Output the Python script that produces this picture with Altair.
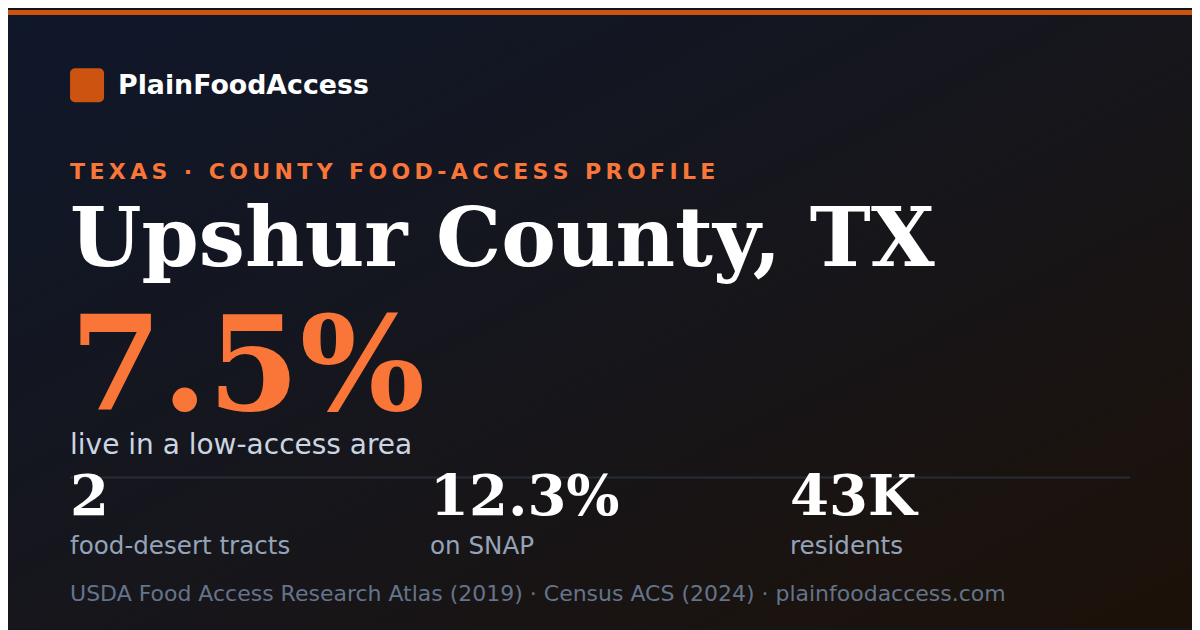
import altair as alt
import pandas as pd

# ---- content ----
BRAND = "PlainFoodAccess"
KICKER = "TEXAS · COUNTY FOOD-ACCESS PROFILE"
COUNTY = "Upshur County, TX"
HEADLINE_VALUE = "7.5%"
HEADLINE_LABEL = "live in a low-access area"
STAT_VALUES = ["2", "12.3%", "43K"]
STAT_LABELS = ["food-desert tracts", "on SNAP", "residents"]
SOURCES = ["USDA Food Access Research Atlas (2019)", "Census ACS (2024)", "plainfoodaccess.com"]

# ---- layout / style ----
W, H = 1192, 622
MARGIN = 8
S = 1200 / (W + 2 * MARGIN)          # page is shrunk to fit the 1200px window


def px(v):
    """reference-picture pixel -> chart pixel"""
    return v / S - MARGIN


def fs(v):
    return v / S


SANS = "DejaVu Sans"
SERIF = "DejaVu Serif"
ORANGE_DARK = "#cd5310"
ORANGE = "#fa7538"

one = pd.DataFrame({"k": [0]})


def txt(df, field, x, y, size, color, font, weight="normal"):
    return alt.Chart(df).mark_text(
        align="left", baseline="alphabetic", font=font, fontSize=fs(size),
        fontWeight=weight, color=color
    ).encode(x=x, y=alt.value(px(y)), text=alt.Text(field))


background = alt.Chart(one).mark_rect(
    color=alt.Gradient(
        gradient="linear",
        stops=[alt.GradientStop(color="#0f172a", offset=0),
               alt.GradientStop(color="#16161c", offset=0.5),
               alt.GradientStop(color="#1c1108", offset=1)],
        x1=0, y1=0, x2=1, y2=1,
    )
).encode(x=alt.value(0), x2=alt.value(W), y=alt.value(0), y2=alt.value(H))

top_bar = alt.Chart(one).mark_rect(color=ORANGE_DARK).encode(
    x=alt.value(0), x2=alt.value(W), y=alt.value(0), y2=alt.value(5))

logo = alt.Chart(one).mark_rect(color=ORANGE_DARK, cornerRadius=5).encode(
    x=alt.value(px(70)), x2=alt.value(px(104)), y=alt.value(px(66)), y2=alt.value(px(100)))

brand = txt(pd.DataFrame({"t": [BRAND]}), "t", alt.value(px(118)), 92, 26.8, "#ffffff", SANS, "bold")
kicker_text = "\u2009".join(KICKER)
kicker = txt(pd.DataFrame({"t": [kicker_text]}), "t", alt.value(px(70)), 177, 22, ORANGE, SANS, "bold")
county = txt(pd.DataFrame({"t": [COUNTY]}), "t", alt.value(px(70)), 264, 82, "#ffffff", SERIF, "bold")
headline = txt(pd.DataFrame({"t": [HEADLINE_VALUE]}), "t", alt.value(px(70)), 408, 132, ORANGE, SERIF, "bold")
headline_label = txt(pd.DataFrame({"t": [HEADLINE_LABEL]}), "t", alt.value(px(70)), 452, 28, "#cbd5e1", SANS)

divider = alt.Chart(one).mark_rule(color="#272c37", strokeWidth=2).encode(
    x=alt.value(px(70)), x2=alt.value(px(1130)), y=alt.value(px(475.5)))

stats = pd.DataFrame({"i": list(range(len(STAT_VALUES))), "v": STAT_VALUES, "l": STAT_LABELS})
sx = alt.X("i:Q", scale=alt.Scale(domain=[0, 2], range=[px(70), px(790)], nice=False, zero=False), axis=None)
stat_values = txt(stats, "v", sx, 513, 56, "#ffffff", SERIF, "bold")
stat_labels = txt(stats, "l", sx, 552, 24.6, "#94a3b8", SANS)

footer = txt(pd.DataFrame({"t": [" · ".join(SOURCES)]}), "t", alt.value(px(70)), 598.5, 22, "#64748b", SANS)

chart = alt.layer(
    background, top_bar, logo, brand, kicker, county, headline, headline_label,
    divider, stat_values, stat_labels, footer
).properties(
    width=W, height=H, padding=0, autosize="none", background="#13151d"
).configure_view(stroke=None)

chart.save("out.html", embed_options={"renderer": "svg", "actions": False})
